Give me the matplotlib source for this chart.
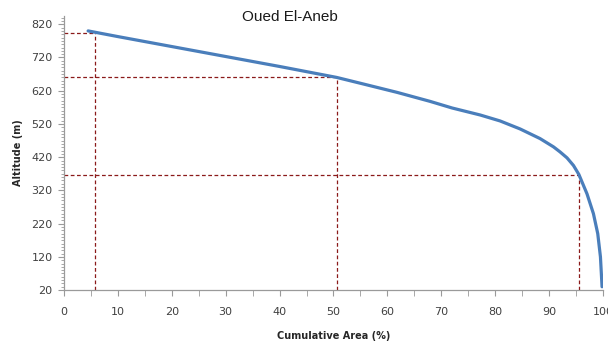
import numpy as np
import matplotlib.pyplot as plt
from matplotlib.ticker import MultipleLocator

# hypsometric curve
area = [4.5, 10, 20, 30, 40, 50.6, 55.6, 61.8, 67.9, 72, 77.2, 80.9, 84.6,
        88.3, 90.8, 92, 93.3, 94.5, 95.5, 97.0, 98.2, 99.0, 99.5, 99.8]
alt = [800, 783, 753, 723, 693, 660, 640, 615, 588, 568, 547, 529, 505,
       476, 451, 436, 418, 395, 368, 310, 250, 190, 120, 30]

# reference points (dashed guides)
ref_x = [5.8, 50.6, 95.5]
ref_y = [795, 660, 366]

fig = plt.figure(figsize=(6.08, 3.47), dpi=100)
ax = fig.add_axes([0.105, 0.164, 0.887, 0.79])

for xv, yv in zip(ref_x, ref_y):
    ax.plot([0, xv], [yv, yv], color='#8b1a1a', lw=0.9, ls=(0, (3, 2)))
    ax.plot([xv, xv], [20, yv], color='#8b1a1a', lw=0.9, ls=(0, (3, 2)))

ax.plot(area, alt, color='#4a7ebb', lw=2.3, solid_capstyle='round', solid_joinstyle='round')

ax.set_xlim(0, 100)
ax.set_ylim(20, 845)
ax.set_xticks(np.arange(0, 101, 10))
ax.xaxis.set_minor_locator(MultipleLocator(5))
ax.set_yticks(np.arange(20, 821, 100))
ax.yaxis.set_minor_locator(MultipleLocator(10))

for s in ['top', 'right']:
    ax.spines[s].set_visible(False)
for s in ['left', 'bottom']:
    ax.spines[s].set_color('#9a9a9a')
    ax.spines[s].set_linewidth(0.9)

ax.tick_params(axis='both', which='both', colors='#9a9a9a', labelcolor='#404040', labelsize=8, direction='out')
ax.tick_params(axis='x', which='major', length=4, pad=8)
ax.tick_params(axis='x', which='minor', length=4)
ax.tick_params(axis='y', which='major', length=4, pad=4)
ax.tick_params(axis='y', which='minor', length=2.5)

ax.set_xlabel('Cumulative Area (%)', fontsize=7, fontweight='bold', color='#262626', labelpad=10)
ax.set_ylabel('Altitude (m)', fontsize=7, fontweight='bold', color='#262626', labelpad=6)
fig.text(0.477, 0.95, 'Oued El-Aneb', fontsize=11, family='Liberation Sans', color='#1a1a1a', ha='center', va='center')

fig.savefig('out.png', dpi=100)
